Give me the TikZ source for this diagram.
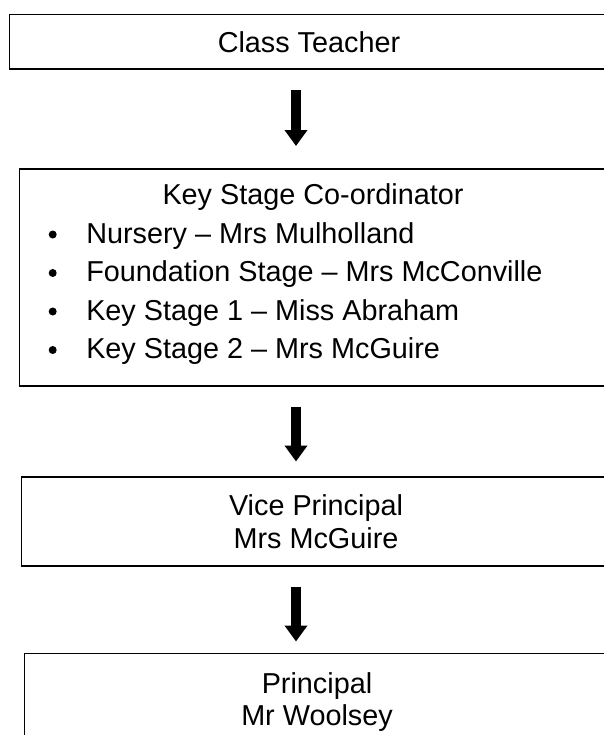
\documentclass[tikz,border=0pt]{standalone}
\usepackage{fontspec}
\setmainfont{Liberation Sans}
\usetikzlibrary{arrows.meta,fit}
\begin{document}
\begin{tikzpicture}[x=0.75pt,y=-0.75pt,
  boxstyle/.style={draw=black,line width=1.1pt,inner sep=0pt,fit=#1},
  label/.style={anchor=base,inner sep=0pt,font=\fontsize{21.6pt}{26pt}\selectfont},
  itemtext/.style={anchor=base west,inner sep=0pt,font=\fontsize{21.6pt}{26pt}\selectfont},
  bulletdot/.style={circle,fill=black,inner sep=0pt,minimum size=6pt},
  flowarrow/.style={line width=7.5pt,-{Triangle[width=16.5pt,length=12pt]}}]
\useasboundingbox (0,0) rectangle (603,735);
% box corners
\coordinate (b1a) at (9.5,14.5);  \coordinate (b1b) at (612,69);
\coordinate (b2a) at (19.5,169);  \coordinate (b2b) at (612,386);
\coordinate (b3a) at (21.5,477);  \coordinate (b3b) at (612,566);
\coordinate (b4a) at (24.5,653.5); \coordinate (b4b) at (612,780);
\node[boxstyle={(b1a)(b1b)}] (box1) {};
\node[boxstyle={(b2a)(b2b)}] (box2) {};
\node[boxstyle={(b3a)(b3b)}] (box3) {};
\node[boxstyle={(b4a)(b4b)}] (box4) {};
% texts
\node[label] (t1) at (309,52.5) {Class Teacher};
\node[label] (t2) at (313,204) {Key Stage Co-ordinator};
\node[bulletdot] (d1) at (52.7,234.5) {};
\node[bulletdot] (d2) at (52.7,273) {};
\node[bulletdot] (d3) at (52.7,311.5) {};
\node[bulletdot] (d4) at (52.7,350) {};
\node[itemtext] (i1) at (86,243) {Nursery – Mrs Mulholland};
\node[itemtext] (i2) at (86,281.5) {Foundation Stage – Mrs McConville};
\node[itemtext] (i3) at (86,320) {Key Stage 1 – Miss Abraham};
\node[itemtext] (i4) at (86,358.5) {Key Stage 2 – Mrs McGuire};
\node[label] (t3a) at (316,515) {Vice Principal};
\node[label] (t3b) at (316,548) {Mrs McGuire};
\node[label] (t4a) at (317,693) {Principal};
\node[label] (t4b) at (317,725) {Mr Woolsey};
% arrows
\coordinate (a1s) at (296,90.5);  \coordinate (a1e) at (296,146);
\coordinate (a2s) at (296,406.5); \coordinate (a2e) at (296,461.5);
\coordinate (a3s) at (296,586.5); \coordinate (a3e) at (296,641.5);
\draw[flowarrow] (a1s) -- (a1e);
\draw[flowarrow] (a2s) -- (a2e);
\draw[flowarrow] (a3s) -- (a3e);
\end{tikzpicture}
\end{document}
